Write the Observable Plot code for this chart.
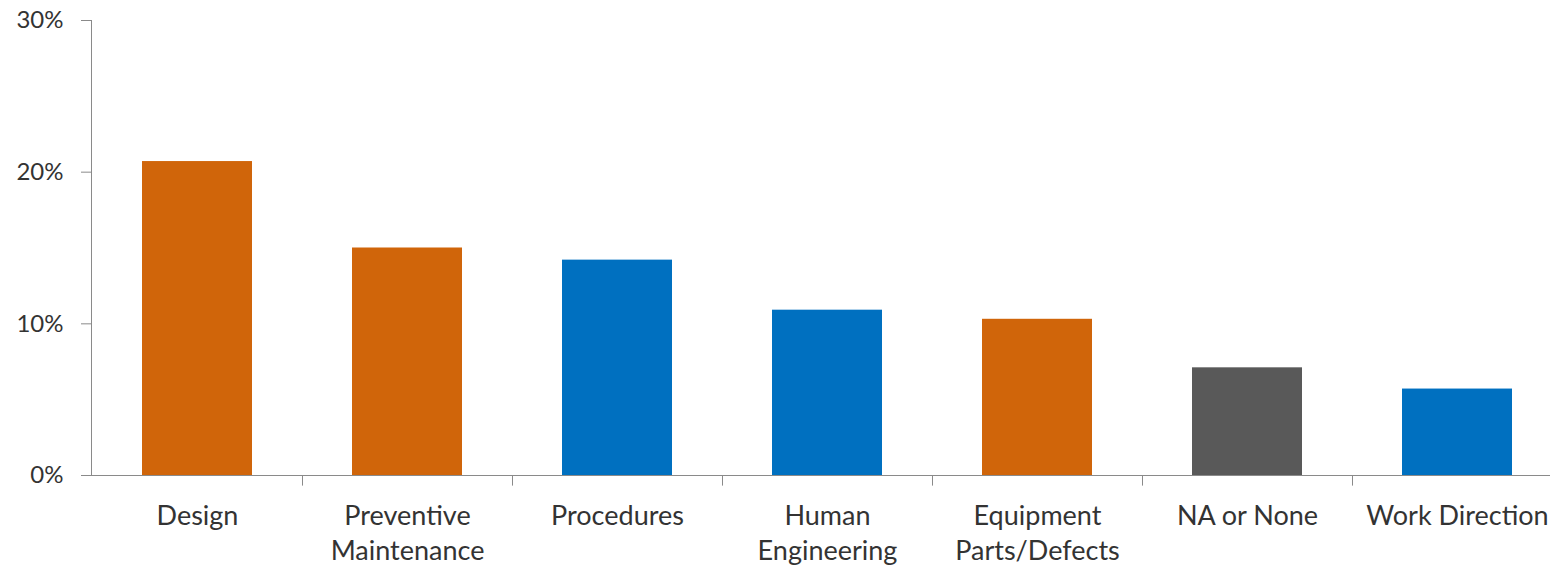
<!DOCTYPE html>
<html>
<head>
<meta charset="utf-8">
<script src="https://cdn.jsdelivr.net/npm/d3@7"></script>
<script src="https://cdn.jsdelivr.net/npm/@observablehq/plot@0.6"></script>
<style>
  html, body { margin: 0; padding: 0; background: #ffffff; }
  #chart svg { display: block; }
</style>
</head>
<body>
<div id="chart"></div>
<script>
const categories = ["Design", "Preventive Maintenance", "Procedures", "Human Engineering", "Equipment Parts/Defects", "NA or None", "Work Direction"];
const tickLabels = ["Design", "Preventive\nMaintenance", "Procedures", "Human\nEngineering", "Equipment\nParts/Defects", "NA or None", "Work Direction"];
const values = [20.7, 15.0, 14.2, 10.9, 10.3, 7.1, 5.7];
const groups = ["Group A", "Group A", "Group B", "Group B", "Group A", "Group C", "Group B"];
const groupNames = ["Group A", "Group B", "Group C"];
const groupColors = ["#D0650A", "#0070C0", "#595959"];
const yTicks = [0, 10, 20, 30];

const data = categories.map((c, i) => ({category: c, value: values[i], group: groups[i], label: tickLabels[i]}));

const W = 1550, H = 566;
const xRange = [92, 1562];
const step = (xRange[1] - xRange[0]) / categories.length;
const font = "Lato, 'Open Sans', sans-serif";

const chart = Plot.plot({
  width: W,
  height: H,
  marginLeft: 91,
  marginRight: 0,
  marginTop: 20,
  marginBottom: 91,
  style: {fontFamily: font, background: "#ffffff", overflow: "visible"},
  x: {domain: categories, range: xRange, paddingInner: 100 / 210, paddingOuter: 50 / 210, axis: null},
  y: {domain: [0, 30], axis: null},
  color: {type: "ordinal", domain: groupNames, range: groupColors},
  marks: [
    Plot.barY(data, {x: "category", y: "value", fill: "group"}),
    Plot.axisY({
      ticks: yTicks,
      tickFormat: d => d + "%",
      tickSize: 10,
      tickPadding: 18,
      fontSize: 24,
      fontFamily: font,
      stroke: "#8a8a8a",
      fill: "#333333",
      label: null
    }),
    Plot.frame({anchor: "left", stroke: "#8a8a8a"}),
    Plot.ruleY([0], {stroke: "#8a8a8a"}),
    Plot.ruleX(categories.slice(1), {x: d => d, dx: -step / 2, y1: 0, y2: -0.7, stroke: "#8a8a8a"}),
    Plot.text(data, {
      x: "category",
      y: () => 0,
      text: "label",
      lineAnchor: "top",
      dy: 25,
      lineHeight: 1.28,
      fontSize: 27,
      fill: "#333333"
    })
  ]
});

document.getElementById("chart").appendChild(chart);
</script>
</body>
</html>
